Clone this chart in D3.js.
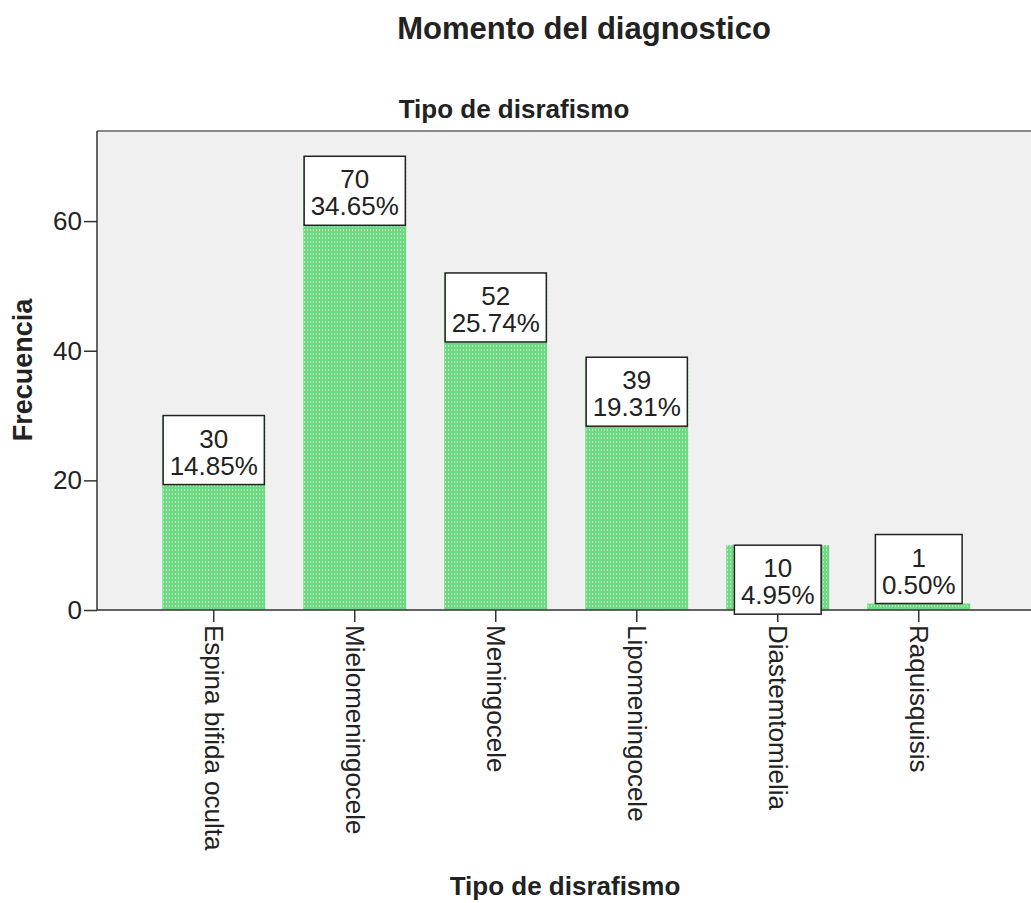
<!DOCTYPE html>
<meta charset="utf-8">
<style>
body { margin: 0; background: #fff; }
text { font-family: "Liberation Sans", Arial, sans-serif; fill: #222; }
.title { font-weight: bold; text-anchor: middle; }
</style>
<svg width="1031" height="903"></svg>
<script src="https://d3js.org/d3.v7.min.js"></script>
<script>
// data
var categories = ["Espina bifida oculta", "Mielomeningocele", "Meningocele", "Lipomeningocele", "Diastemtomielia", "Raquisquisis"];
var counts = [30, 70, 52, 39, 10, 1];
var percents = ["14.85%", "34.65%", "25.74%", "19.31%", "4.95%", "0.50%"];
var yTicks = [0, 20, 40, 60];

var svg = d3.select("svg");

// plot edges (window.top is reserved, so plain names are avoided)
var plotLeft = 97, plotTop = 131, plotBottom = 610, plotRight = 1035.5;

var x = d3.scaleBand()
    .domain(categories)
    .range([plotLeft, plotRight])
    .paddingInner(0.27)
    .paddingOuter(0.463);

var y = d3.scaleLinear()
    .domain([0, 73.9])
    .range([plotBottom, plotTop]);

// dotted green fill like the spss bars
var pat = svg.append("defs").append("pattern")
    .attr("id", "dots")
    .attr("patternUnits", "userSpaceOnUse")
    .attr("width", 3).attr("height", 4);
pat.append("rect").attr("width", 3).attr("height", 4).attr("fill", "#6fd882");
pat.append("rect").attr("x", 1).attr("y", 1).attr("width", 1).attr("height", 2).attr("fill", "#b2ecbb");

// plot background
svg.append("rect")
    .attr("x", plotLeft).attr("y", plotTop)
    .attr("width", 1031 - plotLeft).attr("height", plotBottom - plotTop)
    .attr("fill", "#f0f0f0");
svg.append("line")
    .attr("x1", plotLeft).attr("x2", 1031)
    .attr("y1", plotTop).attr("y2", plotTop)
    .attr("stroke", "#888").attr("stroke-width", 2);

// bars
svg.append("g").selectAll("rect")
    .data(counts)
  .enter().append("rect")
    .attr("x", function(d, i) { return x(categories[i]); })
    .attr("y", function(d) { return y(d); })
    .attr("width", x.bandwidth())
    .attr("height", function(d) { return y(0) - y(d); })
    .attr("fill", "url(#dots)");

// axes
var yAxis = svg.append("g")
    .attr("transform", "translate(" + plotLeft + ",0)")
    .call(d3.axisLeft(y).tickValues(yTicks).tickSize(13).tickPadding(2).tickFormat(d3.format("d")));
yAxis.select(".domain").attr("stroke", "#333").attr("stroke-width", 1.5).attr("d", "M0," + plotTop + "V" + plotBottom);
yAxis.selectAll(".tick line").attr("stroke", "#333").attr("stroke-width", 1.5);
yAxis.selectAll(".tick text")
    .style("font-size", "26px")
    .style("font-family", "'Liberation Sans', Arial, sans-serif")
    .attr("fill", "#333");

var xAxis = svg.append("g")
    .attr("transform", "translate(0," + plotBottom + ")")
    .call(d3.axisBottom(x).tickSize(12).tickSizeOuter(0));
xAxis.select(".domain").attr("stroke", "#333").attr("stroke-width", 1.5).attr("d", "M" + plotLeft + ",0H1031");
xAxis.selectAll(".tick line").attr("stroke", "#333").attr("stroke-width", 1.5);
xAxis.selectAll(".tick text")
    .style("font-size", "26px")
    .style("font-family", "'Liberation Sans', Arial, sans-serif")
    .attr("fill", "#222")
    .attr("text-anchor", "start")
    .attr("transform", "translate(0,15) rotate(90)")
    .attr("x", 0).attr("y", 0).attr("dy", "0.35em");

// value labels in boxes
var boxH = 69;
var lab = svg.append("g").selectAll("g")
    .data(counts)
  .enter().append("g")
    .attr("transform", function(d, i) {
      var t = y(d);
      if (t + boxH - y(0) > boxH / 2) t = y(d) - boxH;
      return "translate(" + (x(categories[i]) + x.bandwidth() / 2) + "," + t + ")";
    });
var box = lab.append("rect")
    .attr("y", 0).attr("height", boxH)
    .attr("fill", "#fff").attr("stroke", "#222").attr("stroke-width", 1.5);
lab.append("text")
    .attr("text-anchor", "middle").attr("y", 32)
    .style("font-size", "26px")
    .text(function(d) { return d; });
var pct = lab.append("text")
    .attr("text-anchor", "middle").attr("y", 59)
    .style("font-size", "26px")
    .text(function(d, i) { return percents[i]; });
box.each(function(d, i) {
  var w = pct.nodes()[i].getComputedTextLength() + 13;
  d3.select(this).attr("x", -w / 2).attr("width", w);
});

// titles
svg.append("text").attr("class", "title")
    .attr("x", 584).attr("y", 39)
    .style("font-size", "31px")
    .text("Momento del diagnostico");
svg.append("text").attr("class", "title")
    .attr("x", 514).attr("y", 118)
    .style("font-size", "26px")
    .text("Tipo de disrafismo");
svg.append("text").attr("class", "title")
    .attr("x", 565).attr("y", 895)
    .style("font-size", "26px")
    .text("Tipo de disrafismo");
svg.append("text").attr("class", "title")
    .attr("transform", "translate(32,370) rotate(-90)")
    .style("font-size", "27px")
    .text("Frecuencia");
</script>
